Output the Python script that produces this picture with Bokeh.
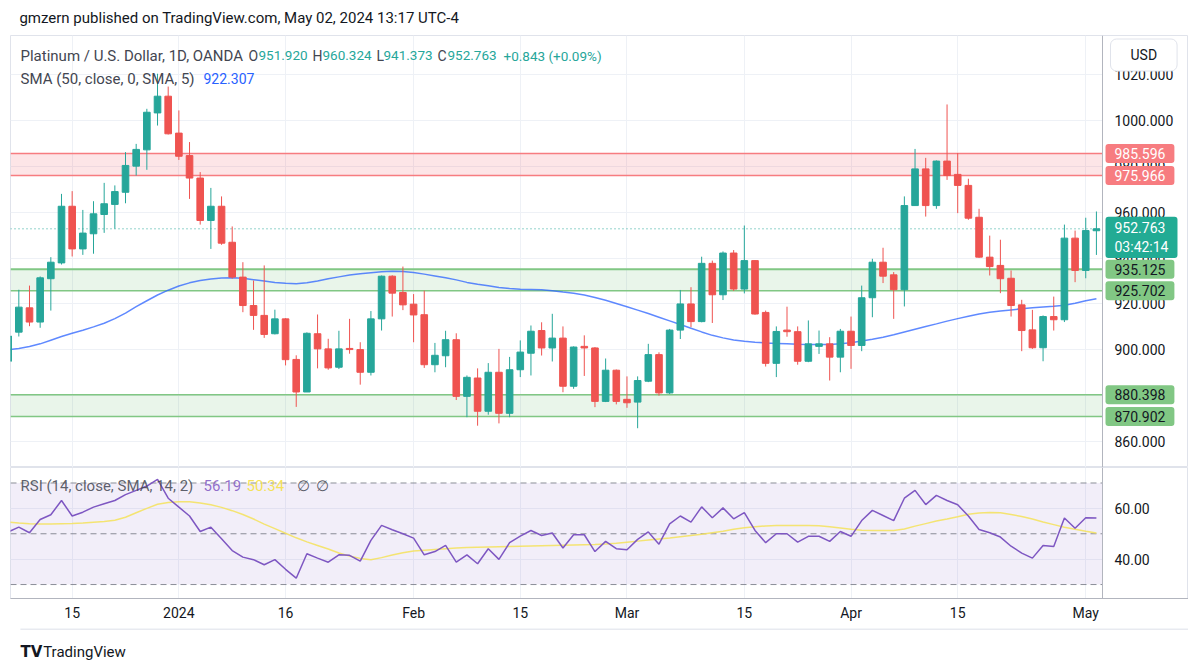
from bokeh.plotting import figure
from bokeh.layouts import column
from bokeh.models import (Range1d, FixedTicker, BoxAnnotation, Label, Grid, LinearAxis,
                          ColumnDataSource, PrintfTickFormatter)
from bokeh.core.properties import value
from bokeh.embed import file_html
from bokeh.resources import INLINE

# ---------------- data ----------------
opens = [895.0, 907.7, 918.3, 912.1, 931.0, 937.9, 962.6, 944.0, 950.6, 959.0,
         963.4, 968.7, 980.1, 987.2, 1003.3, 1010.6, 994.5, 984.7, 974.9, 956.4,
         962.6, 946.9, 931.7, 919.3, 915.0, 907.0, 913.5, 895.8, 881.6, 907.0,
         900.4, 892.4, 900.6, 900.1, 890.2, 913.5, 932.1, 925.0, 919.9, 915.3,
         893.5, 897.4, 904.4, 879.7, 887.7, 873.2, 890.2, 872.3, 891.3, 898.5,
         908.4, 900.8, 905.1, 884.1, 901.5, 900.8, 877.5, 891.1, 878.4, 877.2,
         886.3, 897.9, 881.2, 908.6, 920.0, 912.3, 937.7, 924.0, 942.2, 926.5,
         938.9, 916.3, 894.1, 908.6, 907.9, 895.0, 901.5, 902.6, 896.8, 908.1,
         901.9, 922.7, 938.2, 932.7, 926.2, 962.9, 978.9, 962.9, 982.3, 976.5,
         971.7, 957.8, 940.4, 936.8, 931.2, 919.6, 908.7, 900.9, 914.5, 913.1,
         948.7, 934.6, 951.92]
highs = [909.0, 926.2, 928.0, 932.0, 940.4, 968.0, 969.2, 961.0, 964.8, 972.8,
         971.7, 986.2, 989.8, 1005.1, 1020.4, 1014.8, 1004.4, 990.6, 977.5, 970.6,
         966.9, 953.8, 938.2, 930.2, 936.8, 917.5, 913.8, 897.6, 907.6, 915.4,
         904.8, 908.3, 913.5, 903.3, 916.9, 932.4, 932.5, 936.3, 924.3, 925.8,
         903.0, 908.3, 907.2, 888.8, 891.9, 894.2, 900.4, 896.9, 904.1, 910.6,
         912.0, 915.7, 910.2, 901.5, 906.3, 901.2, 896.2, 891.4, 888.4, 888.4,
         902.6, 898.9, 909.1, 926.1, 927.3, 940.6, 938.9, 942.9, 943.5, 954.2,
         939.0, 917.1, 910.2, 918.8, 910.2, 912.8, 908.4, 905.5, 909.1, 914.5,
         928.0, 939.7, 944.5, 933.9, 966.9, 987.6, 983.7, 982.6, 1007.0, 985.8,
         974.6, 961.5, 949.8, 948.0, 934.6, 921.8, 917.4, 915.0, 923.2, 954.6,
         952.0, 957.6, 960.324]
lows = [889.0, 905.8, 910.3, 909.6, 917.1, 937.2, 940.7, 941.4, 941.9, 951.0,
        952.8, 963.9, 976.0, 978.5, 997.8, 993.9, 982.8, 965.8, 954.6, 944.0,
        945.8, 931.0, 916.4, 908.7, 905.2, 906.7, 893.2, 875.1, 881.6, 891.9,
        891.3, 891.6, 898.3, 884.8, 888.8, 908.4, 914.5, 917.3, 903.3, 892.1,
        890.2, 892.4, 878.1, 870.6, 866.9, 871.7, 867.9, 870.6, 888.1, 888.8,
        897.5, 894.9, 881.5, 883.0, 888.6, 875.0, 877.2, 876.2, 874.7, 865.8,
        885.9, 880.0, 880.7, 904.7, 909.9, 912.0, 911.7, 921.7, 925.7, 924.6,
        915.3, 892.7, 888.1, 905.7, 893.5, 894.6, 898.2, 886.6, 890.2, 891.7,
        899.4, 914.2, 929.1, 913.5, 918.9, 962.9, 958.1, 961.5, 974.1, 959.6,
        956.7, 940.1, 932.4, 924.7, 914.5, 899.4, 900.4, 895.0, 908.4, 912.1,
        929.5, 931.2, 941.373]
closes = [906.0, 918.6, 912.1, 931.4, 938.2, 962.6, 944.0, 950.9, 959.3, 963.7,
          969.0, 980.4, 987.4, 1003.6, 1010.6, 994.2, 984.4, 974.9, 956.4, 962.6,
          946.5, 931.7, 919.3, 915.0, 906.7, 913.5, 895.7, 881.6, 907.2, 900.4,
          892.1, 900.4, 900.1, 890.2, 913.5, 932.1, 924.7, 919.6, 915.2, 893.5,
          897.6, 904.4, 879.7, 888.0, 873.2, 890.2, 872.3, 891.3, 899.0, 908.1,
          900.8, 905.1, 884.1, 901.2, 900.8, 877.5, 891.1, 877.5, 876.9, 886.6,
          897.9, 881.2, 908.6, 920.0, 912.3, 937.7, 924.0, 942.2, 926.5, 938.9,
          915.6, 894.1, 908.0, 907.9, 895.0, 902.6, 902.6, 896.8, 908.1, 901.9,
          922.7, 938.2, 932.1, 926.2, 962.9, 978.9, 962.9, 982.3, 976.0, 971.7,
          957.4, 940.4, 936.3, 931.0, 919.3, 908.4, 900.9, 914.5, 913.1, 948.7,
          934.6, 952.0, 952.763]
sma50 = [900.0, 900.6, 901.4, 902.6, 904.2, 905.8, 907.2, 908.5, 910.0, 911.6,
         913.6, 916.0, 918.8, 921.4, 923.9, 926.0, 927.8, 929.2, 930.2, 930.9,
         931.3, 931.4, 931.2, 930.6, 930.0, 929.4, 929.0, 928.8, 929.2, 930.0,
         931.0, 931.8, 932.6, 933.2, 933.6, 934.0, 934.3, 934.2, 933.7, 933.0,
         932.2, 931.4, 930.5, 929.4, 928.6, 927.9, 927.2, 926.7, 926.4, 926.3,
         926.2, 925.8, 925.2, 924.7, 923.9, 922.8, 921.6, 920.2, 918.8, 917.3,
         915.8, 914.2, 912.6, 911.0, 909.4, 907.8, 906.3, 905.2, 904.3, 903.7,
         903.3, 903.0, 902.8, 902.6, 902.4, 902.3, 902.3, 902.3, 902.6, 903.1,
         903.8, 904.6, 905.5, 906.6, 907.8, 909.0, 910.2, 911.3, 912.5, 913.6,
         914.6, 915.6, 916.4, 916.9, 917.4, 917.9, 918.3, 918.7, 919.0, 919.4,
         920.3, 921.4, 922.307]
rsi = [50.7, 52.6, 50.4, 55.6, 57.5, 63.1, 57.0, 58.5, 60.5, 61.8,
       63.1, 65.4, 67.1, 68.8, 71.4, 64.0, 60.5, 57.0, 50.9, 52.6,
       48.0, 43.4, 40.8, 39.8, 37.8, 39.8, 36.0, 32.5, 42.1, 40.4,
       38.8, 41.7, 41.5, 39.2, 47.4, 53.3, 51.6, 50.0, 48.3, 41.7,
       43.0, 45.4, 38.8, 41.7, 38.2, 44.1, 39.9, 46.5, 49.1, 51.3,
       49.3, 50.3, 44.4, 49.6, 49.6, 43.0, 47.0, 44.1, 43.7, 47.8,
       50.7, 45.9, 53.9, 57.0, 54.6, 60.6, 56.3, 60.2, 55.9, 58.3,
       51.3, 46.5, 50.0, 50.0, 46.7, 49.0, 49.0, 47.0, 50.9, 49.0,
       55.2, 59.2, 57.2, 55.2, 64.0, 67.1, 61.5, 65.1, 63.1, 61.4,
       57.0, 51.7, 50.4, 48.7, 45.1, 42.4, 40.4, 45.4, 45.0, 56.2,
       52.2, 56.3, 56.19]
rsi_sma = [54.6, 54.2, 53.9, 53.8, 53.8, 53.9, 54.0, 54.2, 54.5, 54.8,
           55.3, 56.5, 58.3, 60.0, 61.6, 62.3, 62.6, 62.6, 62.1, 61.4,
           60.4, 59.1, 57.6, 55.8, 53.8, 52.0, 50.2, 48.4, 46.8, 45.4,
           44.0, 42.4, 41.2, 40.3, 39.8, 40.6, 41.6, 42.5, 43.2, 43.5,
           43.8, 44.1, 44.4, 44.6, 44.7, 44.8, 44.9, 45.0, 45.1, 45.2,
           45.3, 45.4, 45.5, 45.6, 45.7, 45.8, 46.0, 46.3, 46.7, 47.1,
           47.5, 47.9, 48.3, 48.8, 49.3, 49.8, 50.4, 51.0, 51.8, 52.4,
           52.8, 53.1, 53.3, 53.3, 53.3, 53.3, 53.2, 52.8, 52.3, 51.8,
           51.4, 51.3, 51.3, 51.3, 51.9, 53.0, 54.0, 55.0, 55.8, 56.7,
           57.7, 58.2, 58.4, 58.3, 57.6, 56.8, 55.8, 54.6, 53.6, 52.6,
           51.8, 51.0, 50.34]
tick_idx = [6, 16, 26, 38, 48, 58, 69, 79, 89, 101]
tick_labels = ["15", "2024", "16", "Feb", "15", "Mar", "15", "Apr", "15", "May"]
price_ticks = [860, 880, 900, 920, 940, 960, 980, 1000, 1020]
rsi_ticks = [40, 60]
rsi_levels = [30, 50, 70]
red_zone = [975.966, 985.596]
green_zone_hi = [925.702, 935.125]
green_zone_lo = [870.902, 880.398]
last_price = 952.763
change_text = "+0.843 (+0.09%)"
countdown = "03:42:14"

# ---------------- styles / geometry ----------------
FONT = "Roboto"
UP, DOWN = "#26a69a", "#ef5350"
TXT = "#131722"
LEG = "#434651"
GRID = "#eef1f6"
AXLINE = "#b2b5be"
BORDER = "#e0e3eb"
W = 1188
X0, X1 = 0.22, 102.57          # candle area (up to the price scale line)
S = 1092 / (X1 - X0)           # px per bar
XE = X1 + 86 / S               # frame continues under the price scale
Y0, Y1 = 848.67, 1037.07
PH = 432
R0, R1 = 24.5, 76.1
RH = 131

n = len(opens)
xs = list(range(n))
cols = [UP if c >= o else DOWN for o, c in zip(opens, closes)]
src = ColumnDataSource(dict(x=xs, h=highs, l=lows,
                            top=[max(o, c) for o, c in zip(opens, closes)],
                            bot=[min(o, c) for o, c in zip(opens, closes)],
                            color=cols))
xr = Range1d(X0, XE)


def hgrid(fig, ticks):
    try:
        g = Grid(dimension=1, ticker=FixedTicker(ticks=ticks), grid_line_color=GRID,
                 cross_bounds=(X0, X1))
    except Exception:
        g = Grid(dimension=1, ticker=FixedTicker(ticks=ticks), grid_line_color=GRID)
    fig.add_layout(g)
    fig.add_layout(Grid(dimension=0, ticker=FixedTicker(ticks=tick_idx), grid_line_color=GRID))


def scale_axis(fig, ticks, fmt):
    ax = LinearAxis(fixed_location=X1, ticker=FixedTicker(ticks=ticks),
                    formatter=PrintfTickFormatter(format=fmt))
    ax.major_tick_line_color = None
    ax.minor_tick_line_color = None
    ax.major_tick_out = 0
    ax.major_tick_in = 0
    ax.axis_line_color = AXLINE
    ax.major_label_text_font = FONT
    ax.major_label_text_font_size = "14px"
    ax.major_label_text_color = TXT
    ax.major_label_standoff = 12
    fig.add_layout(ax, "right")


def legend(fig, px, y, text, color, alpha=1.0, size="15px"):
    fig.add_layout(Label(x=X0, y=y, x_offset=px - 10, text=text, text_font=FONT,
                         text_font_size=size, text_color=color, text_alpha=alpha,
                         text_baseline="middle", text_align="left"))


# ---------------- header ----------------
hdr = figure(width=W, height=35, x_range=Range1d(0, W), y_range=Range1d(0, 35),
             output_backend="svg", toolbar_location=None, x_axis_location=None,
             y_axis_location=None, min_border=0, outline_line_color=None)
hdr.grid.visible = False
hdr.text(x=[9], y=[18], text=["gmzern published on TradingView.com, May 02, 2024 13:17 UTC-4"],
         text_font=value(FONT), text_font_size="15px", text_color=TXT,
         text_baseline="middle", text_align="left")

# ---------------- price pane ----------------
p = figure(width=W, height=PH, x_range=xr, y_range=Range1d(Y0, Y1),
           output_backend="svg", toolbar_location=None, x_axis_location=None,
           y_axis_location=None, min_border_left=10, min_border_right=0,
           min_border_top=0, min_border_bottom=0, outline_line_color=BORDER)
p.grid.visible = False
hgrid(p, price_ticks)
scale_axis(p, price_ticks, "%.3f")

p.add_layout(BoxAnnotation(right=X1, bottom=red_zone[0], top=red_zone[1], fill_color="#f23645",
                           fill_alpha=0.13, line_color=None, level="underlay"))
for lo, hi in (green_zone_hi, green_zone_lo):
    p.add_layout(BoxAnnotation(right=X1, bottom=lo, top=hi, fill_color="#4caf50",
                               fill_alpha=0.12, line_color=None, level="underlay"))
p.segment(x0=X0, x1=X1, y0=red_zone, y1=red_zone, line_color="#f77c80", line_width=1.5)
p.segment(x0=X0, x1=X1, y0=[green_zone_hi[1]], y1=[green_zone_hi[1]],
          line_color="#81c784", line_width=2.2)
g_lv = [green_zone_hi[0]] + green_zone_lo
p.segment(x0=X0, x1=X1, y0=g_lv, y1=g_lv, line_color="#81c784", line_width=1.5)
p.segment(x0=X0, x1=X1, y0=[last_price], y1=[last_price], line_color=UP,
          line_width=1, line_dash="1 3")

p.line(xs, sma50, line_color="#2962ff", line_width=1.5, line_alpha=0.75)
p.segment(x0="x", y0="l", x1="x", y1="h", line_color="color", line_width=1, source=src)
p.vbar(x="x", width=0.62, top="top", bottom="bot", fill_color="color",
       line_color="color", line_width=1, source=src)


def price_at(sy):
    return Y1 - (sy - 35) * (Y1 - Y0) / PH


r1, r2 = price_at(55), price_at(78)
legend(p, 20, r1, "Platinum / U.S. Dollar, 1D, OANDA", LEG)
for px_l, px_v, lab, val in ((248, 258, "O", opens[-1]), (312, 322, "H", highs[-1]),
                             (376, 383, "L", lows[-1]), (437, 447, "C", closes[-1])):
    legend(p, px_l, r1, lab, LEG, size="14px")
    legend(p, px_v, r1, "%.3f" % val, UP, size="13.5px")
legend(p, 503, r1, change_text, UP, size="13.5px")
legend(p, 20, r2, "SMA (50, close, 0, SMA, 5)", LEG)
legend(p, 203, r2, "%.3f" % sma50[-1], "#2962ff", size="14px")


def tag(y, text, bg, fg, pad=(9, 4)):
    p.add_layout(Label(x=X1, y=y, x_offset=3, text=text, text_font=FONT,
                       text_font_size="14px", text_color=fg, text_align="left",
                       text_baseline="middle", background_fill_color=bg,
                       padding=pad, border_radius=3))


for v in red_zone[::-1]:
    tag(v, "%.3f" % v, "#f77c80", "white")
for v in green_zone_hi[::-1] + green_zone_lo[::-1]:
    tag(v, "%.3f" % v, "#81c784", TXT)
tag(last_price - 8.5 * (Y1 - Y0) / PH, "%.3f\n%s" % (last_price, countdown), "#22ab94",
    "white", pad=(9, 3))
p.add_layout(Label(x=X1, y=price_at(54.5), x_offset=8, text="USD", text_font=FONT,
                   text_font_size="14px", text_color=TXT, text_align="left",
                   text_baseline="middle", background_fill_color="white",
                   border_line_color=BORDER, padding=(20, 8), border_radius=6))

# ---------------- RSI pane ----------------
r = figure(width=W, height=RH + 30, x_range=xr, y_range=Range1d(R0, R1),
           output_backend="svg", toolbar_location=None, x_axis_location="below",
           y_axis_location=None, min_border_left=10, min_border_right=0,
           min_border_top=0, min_border_bottom=30, outline_line_color=BORDER)
r.grid.visible = False
hgrid(r, rsi_ticks)
scale_axis(r, rsi_ticks, "%.2f")
r.xaxis.ticker = FixedTicker(ticks=tick_idx)
r.xaxis.major_label_overrides = {i: l for i, l in zip(tick_idx, tick_labels)}
r.xaxis.major_tick_line_color = None
r.xaxis.minor_tick_line_color = None
r.xaxis.major_tick_out = 0
r.xaxis.axis_line_color = AXLINE
r.xaxis.major_label_text_font = FONT
r.xaxis.major_label_text_font_size = "14px"
r.xaxis.major_label_text_color = TXT
r.xaxis.major_label_standoff = 6

r.add_layout(BoxAnnotation(right=X1, bottom=rsi_levels[0], top=rsi_levels[2], fill_color="#7e57c2",
                           fill_alpha=0.1, line_color=None, level="underlay"))
r.segment(x0=X0, x1=X1, y0=rsi_levels, y1=rsi_levels, line_color="#787b86",
          line_width=1, line_dash="6 4", line_alpha=0.85)
r.line(xs, rsi_sma, line_color="#f5e25a", line_width=1.5, line_alpha=0.85)
r.line(xs, rsi, line_color="#7e57c2", line_width=1.5)

ry = R1 - (485 - 467) * (R1 - R0) / RH
legend(r, 20, ry, "RSI (14, close, SMA, 14, 2)", LEG, 0.85)
legend(r, 203, ry, "%.2f" % rsi[-1], "#7e57c2", 0.85)
legend(r, 246, ry, "%.2f" % rsi_sma[-1], "#f5e25a")
legend(r, 296, ry, "\u2205", LEG, 0.85)
legend(r, 315, ry, "\u2205", LEG, 0.85)

# ---------------- footer ----------------
ftr = figure(width=W, height=33, x_range=Range1d(0, W), y_range=Range1d(0, 33),
             output_backend="svg", toolbar_location=None, x_axis_location=None,
             y_axis_location=None, min_border=0, outline_line_color=None)
ftr.grid.visible = False
ftr.segment(x0=[10], x1=[W], y0=[32.5], y1=[32.5], line_color=BORDER, line_width=1.5)
ftr.text(x=[10], y=[10], text=["TV"], text_font=value("DejaVu Sans"), text_font_size="15px",
         text_font_style="bold", text_color=TXT, text_baseline="middle")
ftr.text(x=[33], y=[10], text=["TradingView"], text_font=value(FONT), text_font_size="15px",
         text_color=TXT, text_baseline="middle")

layout = column(hdr, p, r, ftr, spacing=0)
open("out.html", "w").write(file_html(layout, INLINE))
